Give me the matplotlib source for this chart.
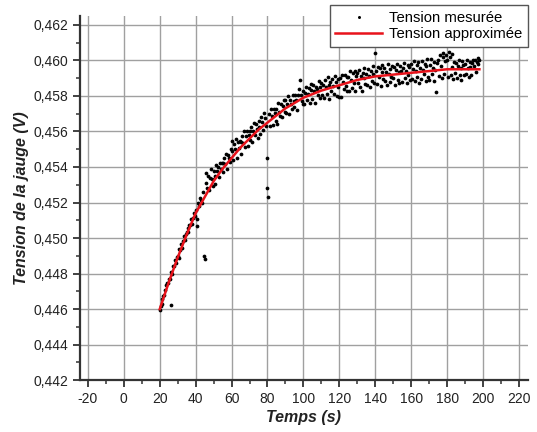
import numpy as np
import matplotlib
matplotlib.use("Agg")
import matplotlib.pyplot as plt
from matplotlib.ticker import MultipleLocator, FuncFormatter

# ---- data ----
# measured tension (V), one sample every 0.5 s starting at t = 20 s
tension_mesuree = [
    .44595, .44618, .44628, .44655, .44675, .44680, .44710, .44735, .44745, .44745,
    .44770, .44769, .44622, .44807, .44796, .44845, .44844, .44878, .44857, .44896,
    .44900, .44888, .44936, .44934, .44967, .44945, .44983, .45011, .44989, .45022,
    .45035, .45057, .45034, .45076, .45073, .45110, .45077, .45114, .45141, .45123,
    .45160, .45110, .45070, .45200, .45180, .45225, .45215, .45200, .45260, .44900,
    .44880, .45308, .45366, .45284, .45352, .45270, .45338, .45386, .45334, .45292,
    .45380, .45347, .45304, .45411, .45378, .45400, .45342, .45424, .45386, .45423,
    .45420, .45371, .45452, .45418, .45474, .45390, .45466, .45452, .45428, .45499,
    .45490, .45546, .45442, .45528, .45504, .45555, .45451, .45542, .45508, .45549,
    .45540, .45475, .45575, .45535, .45600, .45515, .45575, .45605, .45520, .45580,
    .45600, .45550, .45625, .45540, .45605, .45650, .45580, .45640, .45615, .45565,
    .45660, .45624, .45588, .45682, .45651, .45610, .45704, .45673, .45632, .45452,
    .45283, .45229, .45698, .45632, .45726, .45685, .45634, .45728, .45702, .45661,
    .45725, .45644, .45758, .45712, .45686, .45755, .45679, .45743, .45777, .45711,
    .45775, .45703, .45756, .45799, .45697, .45775, .45753, .45726, .45804, .45772,
    .45740, .45803, .45776, .45719, .45807, .45840, .45888, .45806, .45769, .45757,
    .45830, .45757, .45814, .45851, .45778, .45810, .45847, .45759, .45836, .45868,
    .45780, .45862, .45829, .45761, .45853, .45840, .45807, .45884, .45786, .45853,
    .45875, .45807, .45863, .45790, .45891, .45848, .45809, .45906, .45862, .45784,
    .45880, .45827, .45898, .45855, .45811, .45913, .45879, .45801, .45897, .45849,
    .45795, .45902, .45793, .45920, .45881, .45838, .45919, .45856, .45907, .45829,
    .45905, .45826, .45938, .45889, .45846, .45927, .45874, .45940, .45827, .45913,
    .45930, .45871, .45947, .45848, .45914, .45830, .45931, .45902, .45958, .45869,
    .45925, .45861, .45952, .45913, .45849, .45940, .45886, .45967, .45923, .45874,
    .46044, .45941, .45867, .45963, .45904, .45955, .45856, .45937, .45973, .45894,
    .45960, .45885, .45936, .45862, .45977, .45922, .45878, .45954, .45904, .45970,
    .45900, .45961, .45861, .45947, .45977, .45888, .45933, .45874, .45969, .45939,
    .45880, .45956, .45986, .45902, .45938, .45873, .45974, .45919, .45965, .45890,
    .45980, .45896, .45952, .45997, .45883, .45938, .45974, .45909, .45989, .45875,
    .45960, .45896, .45997, .45948, .45923, .45982, .45883, .45968, .46008, .45909,
    .45890, .45976, .46006, .45922, .45958, .45883, .45993, .45948, .45824, .45984,
    .46005, .45911, .46031, .45967, .45903, .46042, .46018, .45922, .45998, .46028,
    .46003, .45909, .46050, .46019, .45919, .46035, .45964, .45895, .45990, .45930,
    .45985, .45900, .45970, .46005, .45915, .45960, .45890, .45995, .45975, .45920,
    .45980, .45925, .46000, .45955, .45905, .45990, .45965, .45920, .45985, .46005,
    .45970, .46000, .45935, .45990, .46015, .45980, .46005,
]
t_debut = 20.0
pas = 0.5
temps_mesure = t_debut + pas * np.arange(len(tension_mesuree))

# fitted curve
temps_fit = [20, 25, 30, 35, 40, 45, 50, 55, 60, 65, 70, 75, 80, 85, 90, 95,
             100, 110, 120, 130, 140, 150, 160, 170, 180, 190, 198]
tension_fit = [0.4460, 0.4475, 0.4489, 0.4502, 0.4514, 0.4523, 0.4532, 0.4539,
               0.4545, 0.4551, 0.4556, 0.4561, 0.4565, 0.4569, 0.4573, 0.4576,
               0.4579, 0.4583, 0.4586, 0.4589, 0.4591, 0.4592, 0.4593, 0.4594,
               0.4595, 0.4595, 0.4595]

xticks = list(range(-20, 221, 20))
yticks = [0.442, 0.444, 0.446, 0.448, 0.450, 0.452, 0.454, 0.456, 0.458, 0.460, 0.462]

# ---- figure ----
plt.rcParams['font.family'] = ['Liberation Sans', 'DejaVu Sans']
fig = plt.figure(figsize=(5.37, 4.32), dpi=100)
ax = fig.add_axes([0.149, 0.120, 0.834, 0.843])

ax.plot(temps_mesure, tension_mesuree, linestyle='none', marker='o',
        markersize=2.7, color='black', markeredgewidth=0, label='Tension mesurée',
        zorder=3)
ax.plot(temps_fit, tension_fit, color='#e8131b', linewidth=1.8,
        label='Tension approximée', zorder=4)

ax.set_xlim(-24.4, 225)
ax.set_ylim(0.442, 0.4625)
ax.set_xticks(xticks)
ax.set_yticks(yticks)
ax.xaxis.set_minor_locator(MultipleLocator(10))
ax.yaxis.set_minor_locator(MultipleLocator(0.001))
ax.xaxis.set_major_formatter(FuncFormatter(lambda v, p: f"{int(round(v))}"))
ax.yaxis.set_major_formatter(FuncFormatter(lambda v, p: f"{v:.3f}".replace('.', ',')))

ax.grid(True, which='major', color='#a0a0a0', linewidth=1.0, zorder=0)
ax.set_axisbelow(True)
for s in ['top', 'right']:
    ax.spines[s].set_visible(False)
for s in ['left', 'bottom']:
    ax.spines[s].set_color('#333333')
    ax.spines[s].set_linewidth(1.6)

ax.tick_params(which='major', direction='out', length=5, width=1.3,
               color='#333333', labelsize=10, labelcolor='#222222')
ax.tick_params(which='minor', direction='out', length=3, width=1.1, color='#333333')

ax.set_xlabel('Temps (s)', fontsize=11.5, fontweight='bold', fontstyle='italic',
              color='#222222', labelpad=3)
ax.set_ylabel('Tension de la jauge (V)', fontsize=11.5, fontweight='bold',
              fontstyle='italic', color='#222222', labelpad=3)

leg = ax.legend(loc='upper right', bbox_to_anchor=(0.983, 0.988),
                bbox_transform=fig.transFigure, fontsize=10.7, frameon=True,
                fancybox=False, edgecolor='#555555', framealpha=1,
                borderpad=0.38, labelspacing=0.15, handlelength=3.1,
                handletextpad=0.5, borderaxespad=0, markerscale=0.8)
leg.get_frame().set_linewidth(1.0)

fig.savefig('out.png', dpi=100)
